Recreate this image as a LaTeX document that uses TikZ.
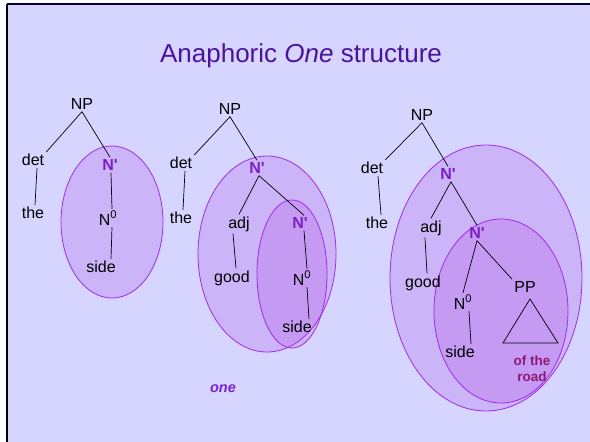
\documentclass[tikz,border=0pt]{standalone}
\usepackage{fontspec}
\setmainfont{Liberation Sans}
\definecolor{bgc}{HTML}{D5D5FF}
\definecolor{titlec}{HTML}{4B129E}
\definecolor{nbarc}{HTML}{7B1FC4}
\definecolor{ellc}{HTML}{A12BE6}
\definecolor{fillc}{HTML}{B040E0}
\definecolor{roadc}{HTML}{8E1A75}
\definecolor{onec}{HTML}{7A22D0}
\begin{document}
\begin{tikzpicture}[x=1pt,y=-1pt,
  lab/.style={font=\fontsize{16}{19}\selectfont, inner sep=2pt},
  nbar/.style={font=\fontsize{16}{19}\selectfont\bfseries, text=nbarc, inner sep=2pt},
  ln/.style={draw=black, line width=0.7pt},
  blob/.style={draw=ellc, line width=0.8pt, fill=fillc, fill opacity=0.22}]
\useasboundingbox (0,0) rectangle (590,442);
\fill[white] (0,0) rectangle (590,442);
\fill[bgc] (7,4) rectangle (590,442);
\draw[black!75!blue, line width=1.2pt] (6.5,4) -- (590,4);
\draw[black, line width=1.6pt] (7,4) -- (7,442);

\node[font=\fontsize{26}{30}\selectfont, text=titlec] (title) at (301,56) {Anaphoric \textit{One} structure};

% ellipses
\fill[blob] (112,222) ellipse [x radius=51pt, y radius=76pt];
\fill[blob] (267,254) ellipse [x radius=69pt, y radius=98pt];
\fill[blob] (292,274) ellipse [x radius=35pt, y radius=74pt];
\fill[blob] (486,278) ellipse [x radius=96pt, y radius=133pt];
\fill[blob] (501,311) ellipse [x radius=67pt, y radius=92pt];

% tree 1
\node[lab] (np1) at (82,104) {NP};
\node[lab] (det1) at (33,160) {det};
\node[lab] (the1) at (33,213) {the};
\node[nbar] (nb1) at (110,165) {N\textquotesingle};
\node[lab] (nz1) at (108,218) {N\textsuperscript{0}};
\node[lab] (side1) at (101,267) {side};
\draw[ln] (np1.south) -- (det1.north east);
\draw[ln] (np1.south) -- (nb1.north);
\draw[ln] ([xshift=4pt]det1.south) -- ([xshift=2pt]the1.north);
\draw[ln] ([xshift=1pt]nb1.south) -- ([xshift=4pt]nz1.north);
\draw[ln] ([xshift=4pt]nz1.south) -- ([xshift=10pt]side1.north);

% tree 2
\node[lab] (np2) at (230,109) {NP};
\node[lab] (det2) at (181,163) {det};
\node[lab] (the2) at (181,218) {the};
\node[nbar] (nb2) at (257,168) {N\textquotesingle};
\node[lab] (adj2) at (239,224) {adj};
\node[lab] (good2) at (232,278) {good};
\node[nbar] (nc2) at (300,223) {N\textquotesingle};
\node[lab] (nz2) at (302,278) {N\textsuperscript{0}};
\node[lab] (side2) at (297,327) {side};
\draw[ln] (np2.south) -- (det2.north east);
\draw[ln] (np2.south) -- (nb2.north);
\draw[ln] ([xshift=4pt]det2.south) -- ([xshift=2pt]the2.north);
\draw[ln] ([xshift=2pt]nb2.south) -- (adj2.north);
\draw[ln] ([xshift=2pt]nb2.south) -- ([xshift=4pt]nc2.north);
\draw[ln] ([xshift=-6pt]adj2.south) -- ([xshift=4pt]good2.north);
\draw[ln] ([xshift=4pt]nc2.south) -- ([xshift=5pt]nz2.north);
\draw[ln] ([xshift=5pt]nz2.south) -- ([xshift=12pt]side2.north);

\node[font=\fontsize{14.5}{17}\selectfont\bfseries\itshape, text=onec, anchor=base] (one) at (223,392) {one};

% tree 3
\node[lab] (np3) at (422,115) {NP};
\node[lab] (det3) at (372,168) {det};
\node[lab] (the3) at (377,223) {the};
\node[nbar] (nb3) at (448,174) {N\textquotesingle};
\node[lab] (adj3) at (431,228) {adj};
\node[lab] (good3) at (423,283) {good};
\node[nbar] (nc3) at (477,233) {N\textquotesingle};
\node[lab] (nz3) at (463,302) {N\textsuperscript{0}};
\node[lab] (side3) at (460,352) {side};
\node[lab] (pp3) at (525,287) {PP};
\coordinate (tri-top) at (530,299);
\coordinate (tri-l) at (503,343);
\coordinate (tri-r) at (558,343);
\node[font=\fontsize{13.5}{16}\selectfont\bfseries, text=roadc, align=center, inner sep=0pt] (road) at (532,369) {of the\\road};
\draw[ln] (np3.south) -- (det3.north east);
\draw[ln] (np3.south) -- (nb3.north);
\draw[ln] ([xshift=6pt]det3.south) -- ([xshift=4pt]the3.north);
\draw[ln] ([xshift=3pt]nb3.south) -- (adj3.north);
\draw[ln] ([xshift=3pt]nb3.south) -- (nc3.north);
\draw[ln] ([xshift=-6pt]adj3.south) -- ([xshift=4pt]good3.north);
\draw[ln] (nc3.south) -- (nz3.north);
\draw[ln] (nc3.south) -- (pp3.north west);
\draw[ln] ([xshift=6pt]nz3.south) -- ([xshift=11pt]side3.north);
\draw[ln] (tri-top) -- (tri-l) -- (tri-r) -- cycle;
\end{tikzpicture}
\end{document}
